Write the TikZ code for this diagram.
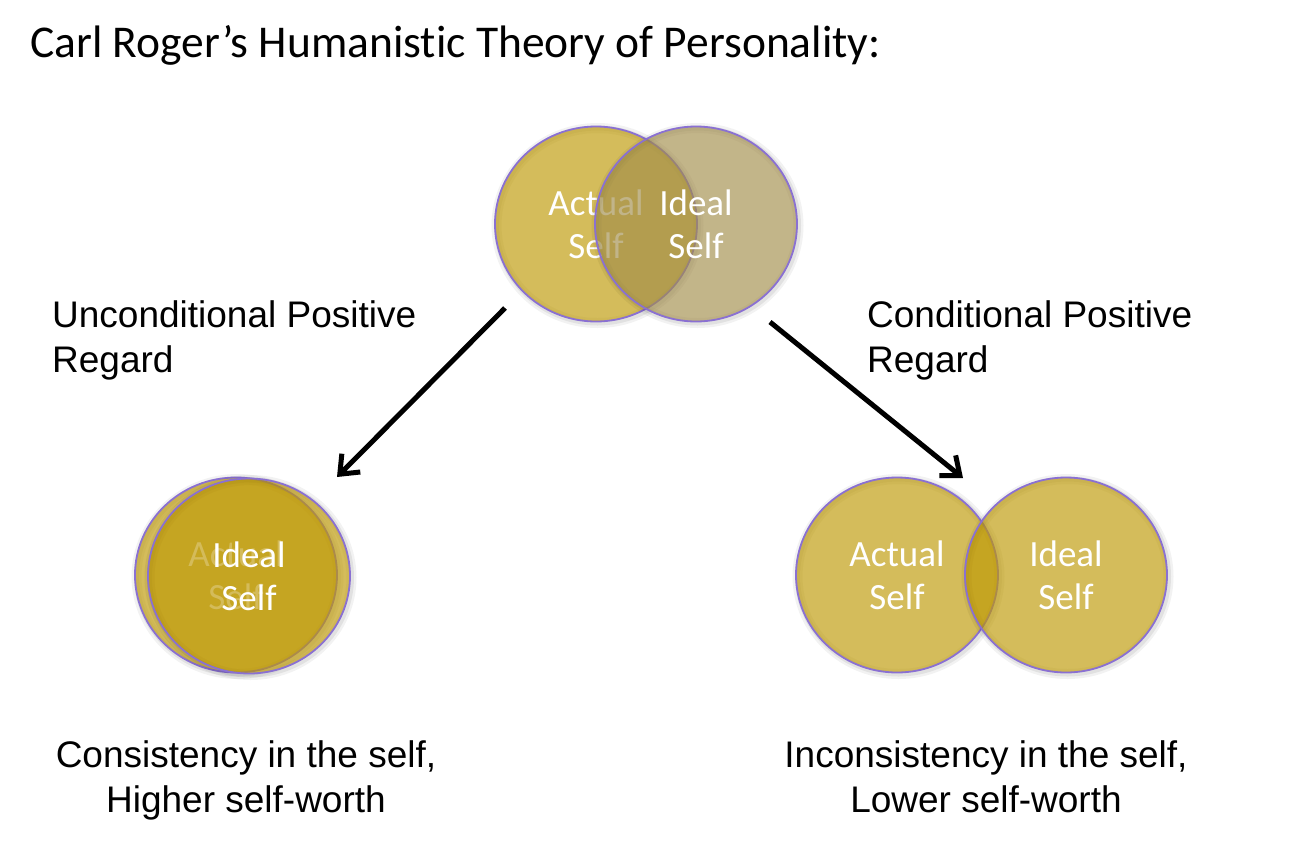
\documentclass[tikz,border=0pt]{standalone}
\usepackage{fontspec}
\setmainfont{Liberation Sans}
\newfontfamily\calibri{Carlito}[Ligatures=NoCommon]
\usetikzlibrary{arrows.meta, positioning, shapes.geometric}

\definecolor{selfgold}{RGB}{189,152,3}
\definecolor{idealtan}{RGB}{161,141,74}
\definecolor{ringpurple}{RGB}{138,112,210}

\begin{document}
\begin{tikzpicture}[
  x=1pt, y=-1pt,
  selfcircle/.style={ellipse, draw=ringpurple, line width=1.8pt, fill=selfgold, fill opacity=0.65,
    text opacity=1, text=white, align=center, inner sep=0pt,
    minimum width=202pt, minimum height=195pt,
    font=\calibri\fontsize{37}{43}\selectfont,
    preaction={draw=black, draw opacity=0.05, line width=10pt, fill opacity=0, transform canvas={shift={(1.5pt,-1.5pt)}}},
    preaction={draw=black, draw opacity=0.07, line width=5pt, fill opacity=0, transform canvas={shift={(1.5pt,-1.5pt)}}}},
  label/.style={align=left, inner sep=0pt, font=\fontsize{37}{45}\selectfont},
  result/.style={align=center, inner sep=0pt, font=\fontsize{37}{45}\selectfont},
  arrow/.style={line width=5pt, -{Straight Barb[length=16pt, width=26pt]}}
]
\useasboundingbox (0,0) rectangle (1292,844);

% Title
\node (title) [anchor=base west, inner sep=0pt, font=\calibri\fontsize{45.5}{54}\selectfont] at (30,57)
  {Carl Roger’s Humanistic Theory of Personality:};

% Circles
\node (actual) [selfcircle] at (596,224) {Actual\\Self};
\node (ideal) [selfcircle, fill=idealtan] at (696,224) {Ideal\\Self};

\node (actual same) [selfcircle] at (236,575) {Actual\\Self};
\node (ideal same) [selfcircle] at (249,576) {Ideal\\Self};

\node (actual apart) [selfcircle] at (897,575) {Actual\\Self};
\node (ideal apart) [selfcircle] at (1066,575) {Ideal\\Self};

% Labels (base is the last line)
\node (uncond) [label, anchor=base west] at (52,372) {Unconditional Positive\\Regard};
\node (cond) [label, anchor=base west] at (867,372) {Conditional Positive\\Regard};

\node (consistent) [result, anchor=base] at (246,812) {Consistency in the self,\\Higher self-worth};
\node (inconsistent) [result, anchor=base] at (986,812) {Inconsistency in the self,\\Lower self-worth};

% Arrows
\coordinate (uncond from) at (505,308);
\coordinate (uncond to) at (337,477);
\coordinate (cond from) at (770,322);
\coordinate (cond to) at (963,478);
\draw [arrow] (uncond from) -- (uncond to);
\draw [arrow] (cond from) -- (cond to);

\end{tikzpicture}
\end{document}
